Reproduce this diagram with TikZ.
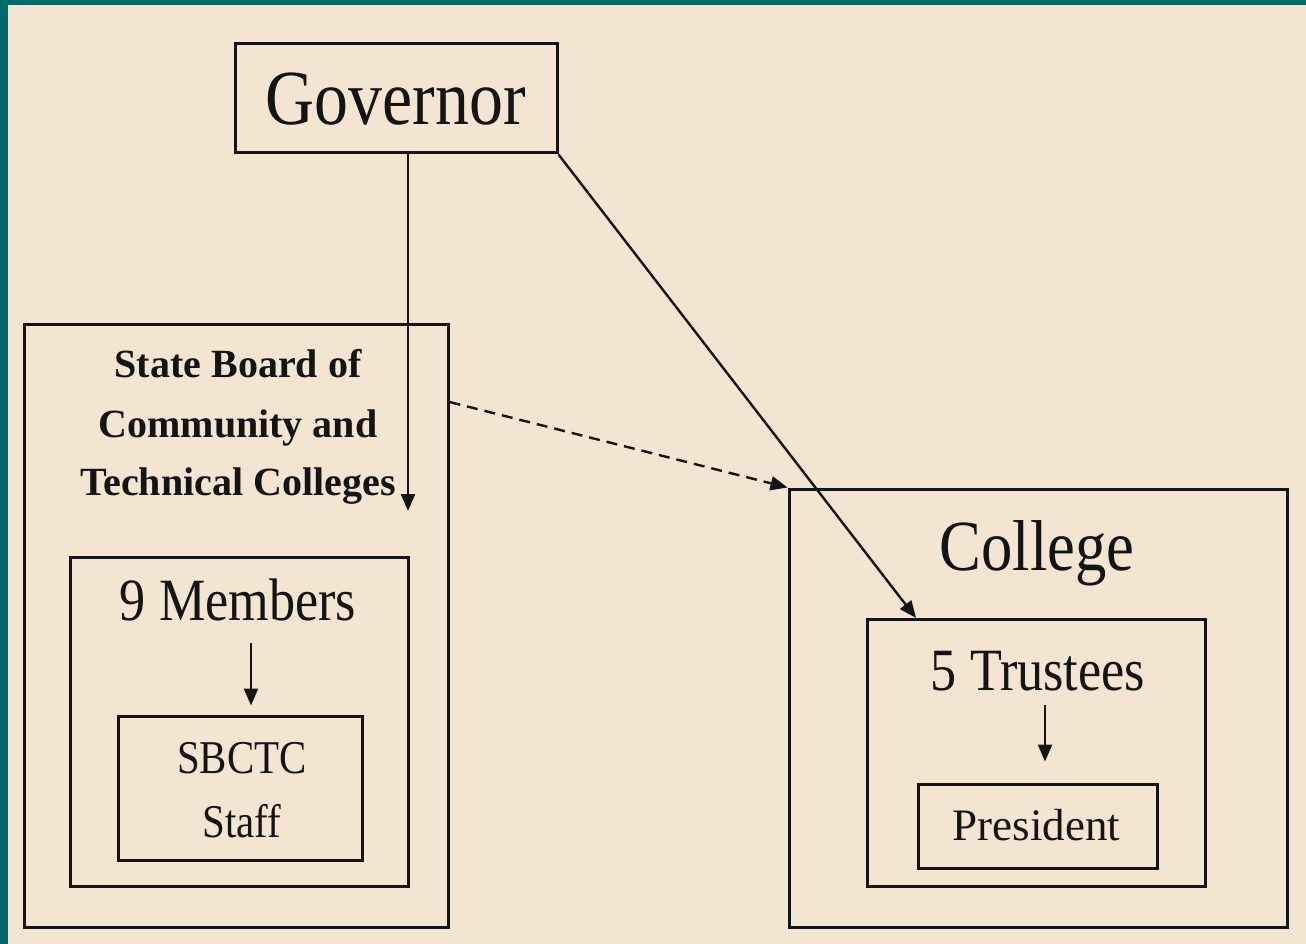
\documentclass[tikz,border=0pt]{standalone}
\usepackage{fontspec}
\setmainfont{Liberation Serif}
\newfontfamily\narrowserif{Liberation Serif}[FakeStretch=0.87]
\usetikzlibrary{arrows.meta}
\definecolor{frameteal}{HTML}{006A68}
\definecolor{paper}{HTML}{F4E4D2}
\definecolor{ink}{HTML}{141414}
\tikzset{
  box/.style={draw=ink, line width=3pt, inner sep=0pt, fill=none},
  lbl/.style={anchor=base, inner sep=0pt, text=ink},
  arr/.style={draw=ink, line width=2.4pt, -{Triangle[length=17pt,width=14pt]}},
  darr/.style={arr, dash pattern=on 11pt off 7pt},
}
\begin{document}
\begin{tikzpicture}[x=1pt,y=-1pt]
  % page and frame
  \useasboundingbox (0,0) rectangle (1306,944);
  \fill[frameteal] (0,0) rectangle (1306,944);
  \fill[paper] (8,5) rectangle (1306,944);

  % boxes
  \node[box, minimum width=322pt, minimum height=109pt] (gov) at (396,98.5) {};
  \node[box, minimum width=424pt, minimum height=603pt] (board) at (236,625.5) {};
  \node[box, minimum width=338pt, minimum height=329pt] (members) at (239,721.5) {};
  \node[box, minimum width=244pt, minimum height=144pt] (staff) at (240,788) {};
  \node[box, minimum width=498pt, minimum height=438pt] (college) at (1038,708) {};
  \node[box, minimum width=338pt, minimum height=267pt] (trustees) at (1036,752.5) {};
  \node[box, minimum width=239pt, minimum height=84pt] (pres) at (1037.5,826) {};

  % labels
  \node[lbl, font=\narrowserif\fontsize{78}{80}\selectfont] (govtxt) at (396,125) {Governor};
  \node[lbl, font=\bfseries\fontsize{40}{48}\selectfont] (boardl1) at (238,377) {State Board of};
  \node[lbl, font=\bfseries\fontsize{40}{48}\selectfont] (boardl2) at (238,437) {Community and};
  \node[lbl, font=\bfseries\fontsize{40}{48}\selectfont] (boardl3) at (238,495) {Technical Colleges};
  \node[lbl, font=\narrowserif\fontsize{60}{64}\selectfont] (memtxt) at (238,620) {9 Members};
  \node[lbl, font=\narrowserif\fontsize{47}{52}\selectfont] (stafl1) at (242,773) {SBCTC};
  \node[lbl, font=\narrowserif\fontsize{47}{52}\selectfont] (stafl2) at (242,837) {Staff};
  \node[lbl, font=\narrowserif\fontsize{72}{76}\selectfont] (coltxt) at (1037,570) {College};
  \node[lbl, font=\narrowserif\fontsize{60}{64}\selectfont] (trtxt) at (1038,690) {5 Trustees};
  \node[lbl, font=\fontsize{45}{50}\selectfont] (prestxt) at (1036.5,840) {President};

  % arrow end points
  \coordinate (boardtip) at (408,511);
  \coordinate (trusttip) at (916,618);
  \coordinate (memfrom) at (251,643);
  \coordinate (trfrom) at (1045,705);

  % connectors
  \draw[arr] (gov.south -| boardtip) -- (boardtip);
  \draw[arr] (gov.south east) -- (trusttip);
  \draw[darr] ([yshift=223.5pt]board.east) -- (college.north west);
  \draw[arr, shorten >=9pt] (memfrom) -- (memfrom |- staff.north);
  \draw[arr, shorten >=21pt] (trfrom) -- (trfrom |- pres.north);
\end{tikzpicture}
\end{document}
